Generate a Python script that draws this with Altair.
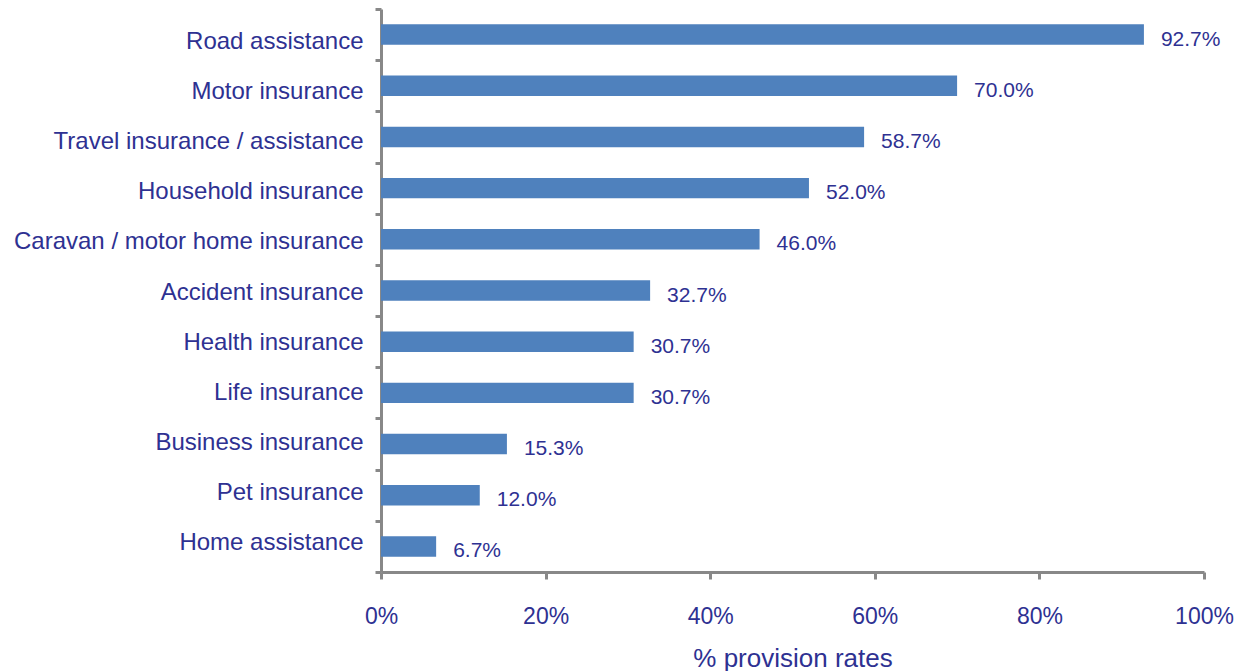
import altair as alt
import pandas as pd

categories = ["Road assistance", "Motor insurance", "Travel insurance / assistance",
              "Household insurance", "Caravan / motor home insurance", "Accident insurance",
              "Health insurance", "Life insurance", "Business insurance", "Pet insurance",
              "Home assistance"]
values = [92.7, 70.0, 58.7, 52.0, 46.0, 32.7, 30.7, 30.7, 15.3, 12.0, 6.7]
labels = [f"{v:.1f}%" for v in values]

df = pd.DataFrame({"cat": categories, "val": [v / 100 for v in values], "lab": labels})

TXT = "#2E3192"
GREY = "#888888"
FONT = "Liberation Sans"

y = alt.Y("cat:N", sort=categories, title=None,
          scale=alt.Scale(paddingInner=0, paddingOuter=0),
          axis=alt.Axis(domainColor=GREY, domainWidth=3, tickColor=GREY, tickWidth=3,
                        tickSize=6, tickBand="extent", labelFont=FONT, labelFontSize=24,
                        labelColor=TXT, labelPadding=12, labelLimit=400,
                        labelOffset=alt.ExprRef("7 - 11*datum.index")))
x = alt.X("val:Q", title="% provision rates",
          scale=alt.Scale(domain=[0, 1], nice=False),
          axis=alt.Axis(format=".0%", values=[0, 0.2, 0.4, 0.6, 0.8, 1.0], grid=False,
                        domainColor=GREY, domainWidth=3, tickColor=GREY, tickWidth=3,
                        tickSize=7, labelFont=FONT, labelFontSize=23, labelColor=TXT,
                        labelPadding=26, labelFlush=False, titleFont=FONT, titleFontSize=26,
                        titleColor=TXT, titleFontWeight="normal", titlePadding=17))

bars = alt.Chart(df).mark_bar(color="#4F81BD", height={"band": 0.4}).encode(x=x, y=y)
text = alt.Chart(df).mark_text(align="left", baseline="middle", dx=17, dy=5,
                               font=FONT, fontSize=21, color=TXT).encode(
    x="val:Q", y=alt.Y("cat:N", sort=categories), text="lab:N")

chart = (bars + text).properties(
    width=823, height=563,
    autosize=alt.AutoSizeParams(type="none"),
    padding={"left": 381, "top": 9, "right": 33, "bottom": 99},
).configure(background="white").configure_view(stroke=None)

chart.save("out.html", embed_options={"renderer": "svg", "actions": False})
